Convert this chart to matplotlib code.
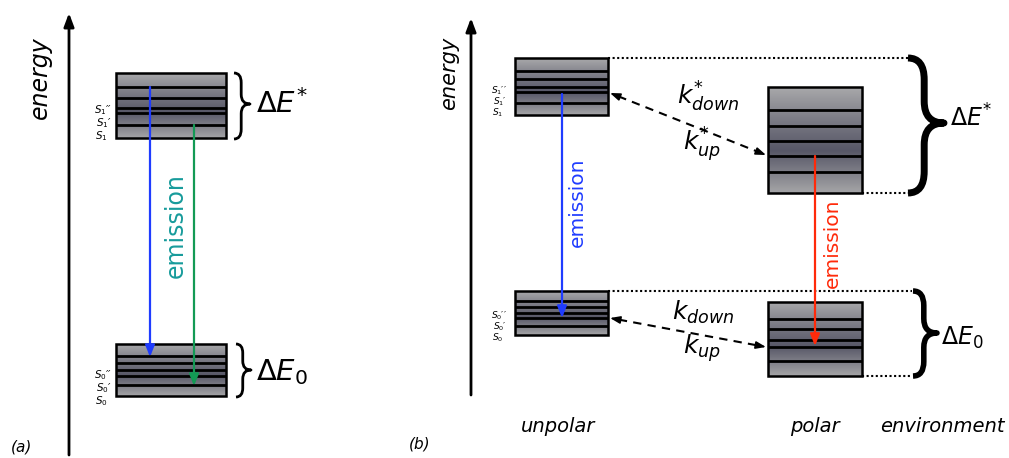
import numpy as np
import matplotlib
matplotlib.use("Agg")
import matplotlib.pyplot as plt
from matplotlib.path import Path
from matplotlib.patches import PathPatch, Rectangle
from matplotlib.colors import LinearSegmentedColormap

plt.rcParams['font.family'] = ['DejaVu Sans']
plt.rcParams['mathtext.fontset'] = 'dejavusans'

# ---- diagram data (pixel-space energy levels) ----
# panel (a)
a_upper_x = [116, 226]
a_upper_edges = [73, 138]
a_upper_levels = [87, 98, 108, 113, 125]
a_lower_x = [116, 226]
a_lower_edges = [344, 396]
a_lower_levels = [356, 363, 370, 376, 385]
# panel (b) unpolar
u_upper_x = [515, 608]
u_upper_edges = [58, 115]
u_upper_levels = [71, 79, 87, 92, 103]
u_lower_x = [515, 608]
u_lower_edges = [291, 335]
u_lower_levels = [301, 307, 313, 318, 326]
# panel (b) polar
p_upper_x = [768, 862]
p_upper_edges = [87, 193]
p_upper_levels = [110, 126, 141, 156, 172]
p_lower_x = [768, 862]
p_lower_edges = [302, 376]
p_lower_levels = [319, 329, 340, 347, 361]

s1_labels = [r"$S_{\mathit{1}}$" + "\u2032\u2032", r"$S_{\mathit{1}}$" + "\u2032 ",
             r"$S_{\mathit{1}}$" + "  "]
s0_labels = [r"$S_{\mathit{0}}$" + "\u2032\u2032", r"$S_{\mathit{0}}$" + "\u2032 ",
             r"$S_{\mathit{0}}$" + "  "]
env_labels = ["unpolar", "polar", "environment"]

W, H = 1009, 458
fig = plt.figure(figsize=(W / 100, H / 100), dpi=100)
ax = fig.add_axes([0, 0, 1, 1])
ax.set_xlim(0, W)
ax.set_ylim(H, 0)
ax.axis('off')

cmap = LinearSegmentedColormap.from_list(
    'lvl', [(0.0, '#a9a9ab'), (0.3, '#7c7c86'), (0.6, '#575767'), (1.0, '#a5a5a7')])
grad = np.linspace(0, 1, 256).reshape(-1, 1)


def level_box(xs, edges, levels):
    x0, x1 = xs
    y0, y1 = edges
    ax.imshow(grad, cmap=cmap, extent=(x0, x1, y1, y0), origin='upper',
              aspect='auto', zorder=1, interpolation='bilinear')
    ax.add_patch(Rectangle((x0, y0), x1 - x0, y1 - y0, fill=False,
                           ec='black', lw=1.8, zorder=3))
    for y in levels:
        ax.plot([x0, x1], [y, y], color='black', lw=2.0, zorder=3,
                solid_capstyle='butt')


def state_labels(xr, ys, labels, fs):
    for lab, y in zip(labels, ys):
        ax.text(xr, y, lab, fontsize=fs, style='italic', ha='right', va='center')


def brace(x, y0, y1, w, lw, ym=None):
    if ym is None:
        ym = (y0 + y1) / 2
    q = x + w * 0.45
    r1 = min(w * 0.6, (ym - y0) * 0.35)
    r2 = min(w * 0.6, (y1 - ym) * 0.35)
    verts = [(x, y0), (q, y0), (q, y0 + r1),
             (q, ym - r1),
             (q, ym), (x + w, ym),
             (q, ym), (q, ym + r2),
             (q, y1 - r2),
             (q, y1), (x, y1)]
    codes = [Path.MOVETO, Path.CURVE3, Path.CURVE3,
             Path.LINETO,
             Path.CURVE3, Path.CURVE3,
             Path.CURVE3, Path.CURVE3,
             Path.LINETO,
             Path.CURVE3, Path.CURVE3]
    ax.add_patch(PathPatch(Path(verts, codes), fill=False, lw=lw,
                           ec='black', capstyle='butt', joinstyle='round', zorder=3))


def arrow(x0, y0, x1, y1, color, lw=1.5, hw=0.28, hl=0.7):
    ax.annotate('', xy=(x1, y1), xytext=(x0, y0),
                arrowprops=dict(arrowstyle=f'-|>,head_width={hw},head_length={hl}',
                                color=color, lw=lw, shrinkA=0, shrinkB=0),
                zorder=4)


def dashed_double(p0, p1):
    p0 = np.array(p0, float)
    p1 = np.array(p1, float)
    d = (p1 - p0) / np.linalg.norm(p1 - p0)
    a = p0 + d * 9
    b = p1 - d * 9
    ax.plot([a[0], b[0]], [a[1], b[1]], color='black', lw=1.5,
            linestyle=(0, (4, 3)), zorder=4)
    arrow(a[0], a[1], p0[0], p0[1], 'black', lw=1.2, hw=0.22, hl=0.6)
    arrow(b[0], b[1], p1[0], p1[1], 'black', lw=1.2, hw=0.22, hl=0.6)


# ---------------- panel (a) ----------------
arrow(69, 455, 69, 13, 'black', lw=2, hw=0.3, hl=0.8)
ax.text(40, 78, 'energy', rotation=90, fontsize=17, style='italic',
        ha='center', va='center')
ax.text(22, 447, '(a)', fontsize=11, style='italic', ha='center', va='center')

level_box(a_upper_x, a_upper_edges, a_upper_levels)
level_box(a_lower_x, a_lower_edges, a_lower_levels)

state_labels(112, [110, 123, 136], s1_labels, 7.5)
state_labels(112, [375, 388, 401], s0_labels, 7.5)

arrow(150, 87, 150, 357, '#1f3cff', lw=1.6)
arrow(194, 125, 194, 386, '#139a55', lw=1.6)
ax.text(176, 226, 'emission', rotation=90, fontsize=17, color='#179b9b',
        ha='center', va='center')

brace(234, 73, 139, 16, 2.0, ym=104)
brace(236, 344, 397, 15, 2.0, ym=370)
ax.text(256, 104, r'$\Delta E^{*}$', fontsize=21, ha='left', va='center')
ax.text(256, 372, r'$\Delta E_{\mathit{0}}$', fontsize=21, ha='left', va='center')

# ---------------- panel (b) ----------------
arrow(471, 395, 471, 18, 'black', lw=2, hw=0.3, hl=0.8)
ax.text(449, 73, 'energy', rotation=90, fontsize=15, style='italic',
        ha='center', va='center')
ax.text(420, 444, '(b)', fontsize=11, style='italic', ha='center', va='center')

level_box(u_upper_x, u_upper_edges, u_upper_levels)
level_box(u_lower_x, u_lower_edges, u_lower_levels)
level_box(p_upper_x, p_upper_edges, p_upper_levels)
level_box(p_lower_x, p_lower_edges, p_lower_levels)

state_labels(507, [91, 102, 113], s1_labels, 6.5)
state_labels(507, [316, 327, 338], s0_labels, 6.5)

dot = dict(color='black', lw=1.5, linestyle=(0, (1, 1.2)), zorder=2)
ax.plot([608, 908], [58, 58], **dot)
ax.plot([862, 908], [193, 193], **dot)
ax.plot([608, 912], [291, 291], **dot)
ax.plot([862, 912], [376, 376], **dot)

arrow(562, 94, 562, 318, '#1f3cff', lw=1.6)
ax.text(577, 202, 'emission', rotation=90, fontsize=14.5, color='#1f3cff',
        ha='center', va='center')
arrow(815, 156, 815, 346, '#ff2a0a', lw=1.6)
ax.text(832, 243, 'emission', rotation=90, fontsize=14.5, color='#ff2a0a',
        ha='center', va='center')

dashed_double((610, 93), (766, 155))
dashed_double((610, 318), (766, 347))
ax.text(677, 97, r'$k^{*}_{down}$', fontsize=18, ha='left', va='center')
ax.text(683, 145, r'$k^{*}_{up}$', fontsize=18, ha='left', va='center')
ax.text(672, 312, r'$k_{down}$', fontsize=18, ha='left', va='center')
ax.text(683, 348, r'$k_{up}$', fontsize=18, ha='left', va='center')

brace(908, 58, 193, 36, 5.0, ym=123)
brace(913, 291, 376, 24, 4.0, ym=333)
ax.text(950, 118, r'$\Delta E^{*}$', fontsize=17, ha='left', va='center')
ax.text(941, 338, r'$\Delta E_{\mathit{0}}$', fontsize=17, ha='left', va='center')

for lab, x in zip(env_labels, [558, 815, 942]):
    ax.text(x, 426, lab, fontsize=14, style='italic', ha='center', va='center')

fig.savefig('out.png', dpi=100)
